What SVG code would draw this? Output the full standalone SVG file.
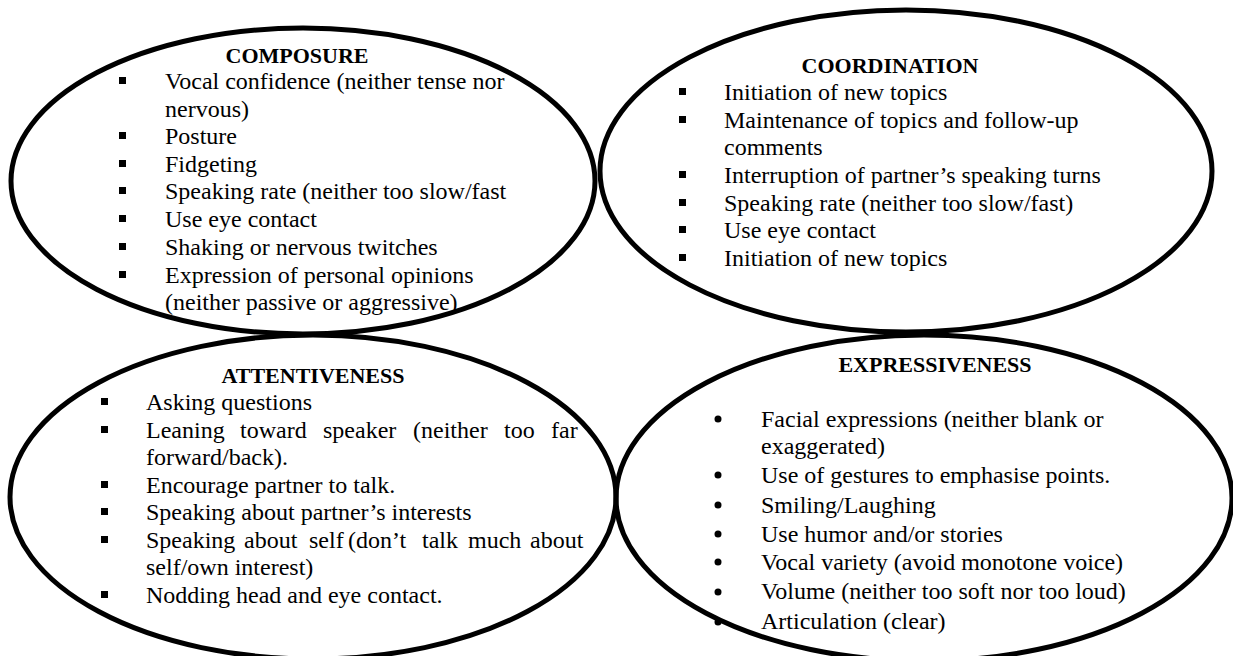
<svg xmlns="http://www.w3.org/2000/svg" width="1233" height="656" viewBox="0 0 1233 656">
<style>
.t{font-family:"Liberation Serif","Times New Roman",serif;font-size:24px;fill:#000}
.h{font-family:"Liberation Serif","Times New Roman",serif;font-size:22px;font-weight:bold;fill:#000;text-anchor:middle}
.e{fill:none;stroke:#000;stroke-width:5}
.sq{fill:#000}
</style>
<rect width="1233" height="656" fill="#fff"/>
<g id="composure">
<text class="h" x="297" y="63">COMPOSURE</text>
<text class="t" x="165" y="89">Vocal confidence (neither tense nor</text>
<text class="t" x="165" y="117">nervous)</text>
<text class="t" x="165" y="144">Posture</text>
<text class="t" x="165" y="172">Fidgeting</text>
<text class="t" x="165" y="199">Speaking rate (neither too slow/fast</text>
<text class="t" x="165" y="227">Use eye contact</text>
<text class="t" x="165" y="255">Shaking or nervous twitches</text>
<text class="t" x="165" y="283">Expression of personal opinions</text>
<text class="t" x="165" y="310">(neither passive or aggressive)</text>
<rect class="sq" x="119" y="77" width="7" height="7"/>
<rect class="sq" x="119" y="132" width="7" height="7"/>
<rect class="sq" x="119" y="160" width="7" height="7"/>
<rect class="sq" x="119" y="187" width="7" height="7"/>
<rect class="sq" x="119" y="215" width="7" height="7"/>
<rect class="sq" x="119" y="243" width="7" height="7"/>
<rect class="sq" x="119" y="271" width="7" height="7"/>
<ellipse class="e" cx="303" cy="181" rx="292" ry="153"/>
</g>
<g id="coordination">
<text class="h" x="890" y="73">COORDINATION</text>
<text class="t" x="724" y="100">Initiation of new topics</text>
<text class="t" x="724" y="128">Maintenance of topics and follow-up</text>
<text class="t" x="724" y="155">comments</text>
<text class="t" x="724" y="183">Interruption of partner’s speaking turns</text>
<text class="t" x="724" y="211">Speaking rate (neither too slow/fast)</text>
<text class="t" x="724" y="238">Use eye contact</text>
<text class="t" x="724" y="266">Initiation of new topics</text>
<rect class="sq" x="679" y="88" width="7" height="7"/>
<rect class="sq" x="679" y="116" width="7" height="7"/>
<rect class="sq" x="679" y="171" width="7" height="7"/>
<rect class="sq" x="679" y="199" width="7" height="7"/>
<rect class="sq" x="679" y="226" width="7" height="7"/>
<rect class="sq" x="679" y="254" width="7" height="7"/>
<ellipse class="e" cx="906" cy="171" rx="306" ry="161"/>
</g>
<g id="attentiveness">
<text class="h" x="313" y="383">ATTENTIVENESS</text>
<text class="t" x="146" y="410">Asking questions</text>
<text class="t" y="438"><tspan x="146">Leaning</tspan><tspan x="240">toward</tspan><tspan x="323">speaker</tspan><tspan x="413">(neither</tspan><tspan x="504">too</tspan><tspan x="551">far</tspan></text>
<text class="t" x="146" y="465">forward/back).</text>
<text class="t" x="146" y="493">Encourage partner to talk.</text>
<text class="t" x="146" y="520">Speaking about partner’s interests</text>
<text class="t" y="548"><tspan x="146">Speaking</tspan><tspan x="244">about</tspan><tspan x="309">self</tspan><tspan x="348">(don’t</tspan><tspan x="422">talk</tspan><tspan x="468">much</tspan><tspan x="530">about</tspan></text>
<text class="t" x="146" y="575">self/own interest)</text>
<text class="t" x="146" y="603">Nodding head and eye contact.</text>
<rect class="sq" x="101" y="398" width="7" height="7"/>
<rect class="sq" x="101" y="426" width="7" height="7"/>
<rect class="sq" x="101" y="481" width="7" height="7"/>
<rect class="sq" x="101" y="508" width="7" height="7"/>
<rect class="sq" x="101" y="536" width="7" height="7"/>
<rect class="sq" x="101" y="591" width="7" height="7"/>
<ellipse class="e" cx="313" cy="497" rx="303" ry="162"/>
</g>
<g id="expressiveness">
<text class="h" x="935" y="372">EXPRESSIVENESS</text>
<text class="t" x="761" y="427">Facial expressions (neither blank or</text>
<text class="t" x="761" y="454">exaggerated)</text>
<text class="t" x="761" y="483">Use of gestures to emphasise points.</text>
<text class="t" x="761" y="513">Smiling/Laughing</text>
<text class="t" x="761" y="542">Use humor and/or stories</text>
<text class="t" x="761" y="570">Vocal variety (avoid monotone voice)</text>
<text class="t" x="761" y="599">Volume (neither too soft nor too loud)</text>
<text class="t" x="761" y="629">Articulation (clear)</text>
<circle class="sq" cx="718" cy="419" r="3.5"/>
<circle class="sq" cx="718" cy="475" r="3.5"/>
<circle class="sq" cx="718" cy="505" r="3.5"/>
<circle class="sq" cx="718" cy="534" r="3.5"/>
<circle class="sq" cx="718" cy="562" r="3.5"/>
<circle class="sq" cx="718" cy="592" r="3.5"/>
<circle class="sq" cx="718" cy="622" r="3.5"/>
<ellipse class="e" cx="924" cy="498" rx="308" ry="163"/>
</g>
<g id="connectors"/>
</svg>
